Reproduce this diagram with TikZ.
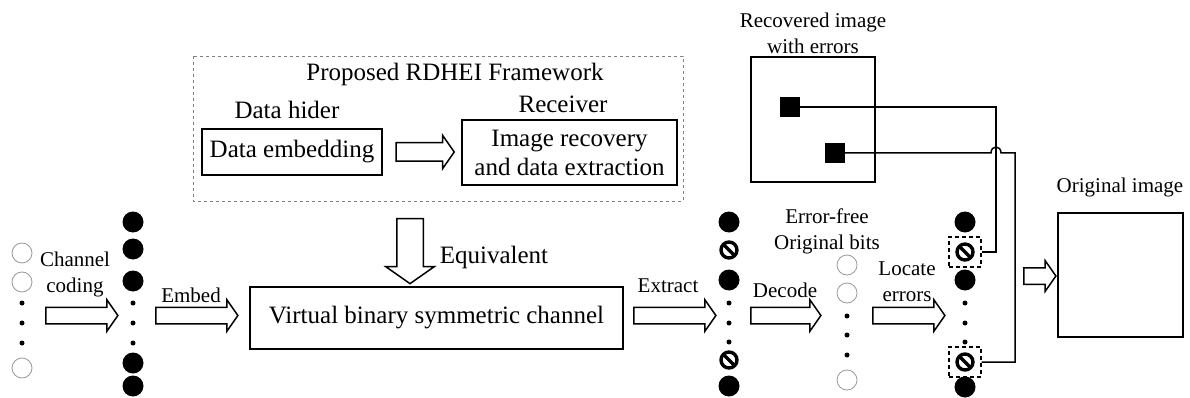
\documentclass[tikz,border=0pt]{standalone}
\usepackage{fontspec}
\setmainfont{Liberation Serif}
\usetikzlibrary{shapes.arrows}

\begin{document}
\begin{tikzpicture}[x=1pt, y=-1pt,
	big/.style={font=\fontsize{25}{29}\selectfont, align=center},
	small/.style={font=\fontsize{21}{26}\selectfont, align=center},
	box/.style={draw, line width=1.5pt, inner sep=0pt},
	blockarrow/.style={single arrow, draw, line width=1.5pt, inner xsep=0pt, inner ysep=7.5pt,
		single arrow head extend=7.5pt, single arrow tip angle=110, minimum height=#1},
	bitone/.style={circle, fill, inner sep=0pt, minimum size=21pt},
	bitzero/.style={circle, draw=gray!80, line width=0.8pt, inner sep=0pt, minimum size=20pt},
	biterr/.style={circle, draw, line width=3.4pt, inner sep=0pt, minimum size=16pt,
		path picture={\draw[line width=3.4pt] (path picture bounding box.north west) -- (path picture bounding box.south east);}},
	errmark/.style={draw, dash pattern=on 4pt off 3pt, line width=1.4pt, inner sep=0pt, minimum width=32pt, minimum height=30pt},
	wire/.style={line width=1.5pt}]

				\useasboundingbox (0,0) rectangle (1190,398);

				% Framework
				\draw[gray, dashed, line width=0.8pt] (193,56) rectangle (683,201);
				\node[big] (title) at (455,74) {Proposed RDHEI Framework};
				\node[big] (hider) at (287,110) {Data hider};
				\node[big] (recv) at (563,104) {Receiver};
				\node[box, big, minimum width=180pt, minimum height=46pt] (embedbox) at (292,152) {Data embedding};
				\node[box, big, minimum width=215pt, minimum height=65pt] (recbox) at (569.5,152.5) {Image recovery\\and data extraction};
				\node[blockarrow=58pt, inner ysep=8.5pt] (a0) at (422,152) {};

				% Equivalent channel
				\node[blockarrow=65pt, inner ysep=12.5pt, single arrow head extend=11pt, rotate=-90] (aeq) at (410,246.5) {};
				\node[big] (eq) at (494,257) {Equivalent};
				\node[box, big, minimum width=373pt, minimum height=62pt] (bsc) at (436.5,318) {Virtual binary symmetric channel};

				% Original bits
				\foreach \y [count=\i] in {253,282,368} \node[bitzero] (A\i) at (22,\y) {};
				\foreach \y in {303,323,343} \fill (22,\y) circle (2.5);
				\node[small] (code) at (75,274) {Channel\\coding};
				\node[blockarrow=72pt] (a1) at (79,315.5) {};

				% Coded bits
				\foreach \y [count=\i] in {222,249,281,363,386} \node[bitone] (B\i) at (133,\y) {};
				\foreach \y in {303,323,343} \fill (133,\y) circle (2.5);
				\node[small] (embed) at (191,295) {Embed};
				\node[blockarrow=82pt] (a2) at (194,315.5) {};

				% Extracted bits
				\node[small] (extract) at (668,286) {Extract};
				\node[blockarrow=82pt] (a3) at (672,315.5) {};
				\foreach \y [count=\i] in {222,280,386} \node[bitone] (C\i) at (729,\y) {};
				\foreach \y [count=\i] in {250,360} \node[biterr] (Cx\i) at (729,\y) {};
				\foreach \y in {303,323,342} \fill (729,\y) circle (2.5);

				% Decoded bits
				\node[small] (decode) at (785,290) {Decode};
				\node[blockarrow=70pt] (a4) at (783,315.5) {};
				\node[small] (free) at (827,231) {Error-free\\Original bits};
				\foreach \y [count=\i] in {265,293,380} \node[bitzero] (D\i) at (847,\y) {};
				\foreach \y in {316,335,355} \fill (847,\y) circle (2.5);

				% Located errors
				\node[small] (locate) at (907,282) {Locate\\errors};
				\node[blockarrow=72pt] (a5) at (906,315.5) {};
				\foreach \y [count=\i] in {222,280,387} \node[bitone] (E\i) at (965,\y) {};
				\foreach \y [count=\i] in {252,362} {
					\node[biterr] (Ex\i) at (965,\y) {};
					\node[errmark] (mark\i) at (965,\y) {};
				}
				\foreach \y in {303,323,342} \fill (965,\y) circle (2.5);

				% Recovered image with errors
				\node[small] (rectext) at (813,33) {Recovered image\\with errors};
				\node[box, minimum width=124pt, minimum height=125pt] (recimg) at (813,119.5) {};
				\node[fill, inner sep=0pt, minimum size=20pt] (sq1) at (790,107) {};
				\node[fill, inner sep=0pt, minimum size=20pt] (sq2) at (835,153) {};

				% Error positions
				\coordinate (turn1) at (996,107);
				\coordinate (turn2) at (1015,153);
				\coordinate (hopL) at (991,153);
				\coordinate (hopR) at (1001,153);
				\draw[wire] (sq1.east) -- (turn1) |- (mark1.east);
				\draw[wire] (sq2.east) -- (hopL) .. controls (991,145) and (1001,145) .. (hopR) -- (turn2) |- (mark2.east);

				% Original image
				\node[blockarrow=32pt, single arrow head extend=7pt] (a6) at (1037,276) {};
				\node[small] (origtext) at (1120,187) {Original image};
				\node[box, minimum width=125pt, minimum height=124pt] (origimg) at (1120.5,275) {};

			\end{tikzpicture}
\end{document}
